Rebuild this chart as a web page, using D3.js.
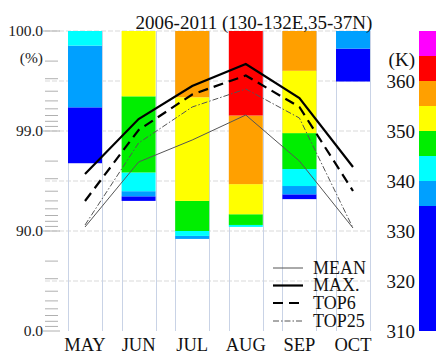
<!DOCTYPE html>
<html>
<head>
<meta charset="utf-8">
<script src="https://cdn.jsdelivr.net/npm/d3@7"></script>
<style>
  html, body { margin: 0; padding: 0; background: #fff; }
  svg { display: block; font-family: "Liberation Serif", "Times New Roman", serif; }
</style>
</head>
<body>
<svg id="chart" width="441" height="354"></svg>
<script>
// Months on the x axis
const months = ["MAY", "JUN", "JUL", "AUG", "SEP", "OCT"];

// Temperature class edges (K) and their colours (colour bar + bar segments)
const classEdges = [310, 335, 340, 345, 350, 355, 360, 365, 370];
const classColors = ["#0000ff", "#00a0ff", "#00ffff", "#00ee00", "#ffff00", "#ffa000", "#ff0000", "#ff00ff"];

// Cumulative percentile (%) at each class edge 335..365 K, per month
const pctMay = [99.42, 99.86, 99.9, 99.9, 99.9, 99.9, 99.9];
const pctJun = [95.5, 96.0, 97.4, 99.55, 99.9, 99.9, 99.9];
const pctJul = [88.0, 88.8, 90.0, 95.0, 99.54, 99.9, 99.9];
const pctAug = [90.9, 90.9, 91.3, 93.2, 96.6, 99.3, 99.9];
const pctSep = [95.7, 96.45, 97.6, 98.95, 99.75, 99.9, 99.9];
const pctOct = [99.85, 99.9, 99.9, 99.9, 99.9, 99.9, 99.9];
// Lowest coloured percentile of each bar
const pctBase = [97.9, 95.0, 88.0, 90.9, 95.2, 99.68];
// Top of every bar
const pctTop = 99.9;

// Temperature series (K)
const meanT  = [330.8, 343.8, 348.2, 353.2, 344.0, 330.6];
const maxT   = [341.4, 352.4, 359.0, 363.4, 356.6, 342.8];
const top6T  = [336.0, 350.2, 357.3, 361.1, 354.8, 338.0];
const top25T = [331.2, 347.6, 354.8, 358.4, 352.6, 330.6];

// Left axis: log of (100 - percent), labels for the decade ticks
const pctTickValues = [0.1, 1, 10, 100];
const pctTickLabels = ["100.0", "99.0", "90.0", "0.0"];
const kTicks = [310, 320, 330, 340, 350, 360];

const title = "2006-2011 (130-132E,35-37N)";

const svg = d3.select("#chart");
const plotTop = 31, plotBottom = 331;

const x = d3.scaleBand().domain(months).range([58.2, 379.8]).paddingInner(0.366).paddingOuter(0.183);
const yLog = d3.scaleLog().domain([100, 0.1]).range([plotBottom, plotTop]);
const yPct = p => yLog(100 - p);
const yK = d3.scaleLinear().domain([310, 370]).range([plotBottom, plotTop]);

const gridLeft = 45, gridRight = x("OCT") + x.bandwidth();

// Horizontal grid lines every 10 K
svg.append("g").selectAll("line")
  .data(d3.range(320, 371, 10))
  .join("line")
  .attr("x1", gridLeft).attr("x2", gridRight)
  .attr("y1", d => yK(d)).attr("y2", d => yK(d))
  .attr("stroke", "#d9d9d9").attr("stroke-width", 1)
  .attr("stroke-dasharray", "5,2");

// Vertical lines at bar edges
const edges = months.flatMap(m => [x(m), x(m) + x.bandwidth()]);
svg.append("g").selectAll("line")
  .data(edges)
  .join("line")
  .attr("x1", d => Math.round(d) + 0.5).attr("x2", d => Math.round(d) + 0.5)
  .attr("y1", plotTop).attr("y2", plotBottom)
  .attr("stroke", "#c9d3e6").attr("stroke-width", 1);

// Stacked percentile bars
const pctByMonth = [pctMay, pctJun, pctJul, pctAug, pctSep, pctOct];
const segments = [];
months.forEach((m, i) => {
  const bounds = [pctBase[i], ...pctByMonth[i], pctTop];
  for (let c = 0; c < classColors.length; c++) {
    const lo = Math.max(bounds[c], pctBase[i]);
    const hi = Math.min(bounds[c + 1], pctTop);
    if (hi > lo) segments.push({ m, c, lo, hi });
  }
});
svg.append("g").selectAll("rect")
  .data(segments)
  .join("rect")
  .attr("x", d => x(d.m))
  .attr("width", x.bandwidth())
  .attr("y", d => yPct(d.hi))
  .attr("height", d => yPct(d.lo) - yPct(d.hi))
  .attr("fill", d => classColors[d.c]);

// Left axis: log ticks with decade labels
const leftTicks = yLog.ticks();
svg.append("g").selectAll("line")
  .data(leftTicks)
  .join("line")
  .attr("x1", d => pctTickValues.includes(d) ? 43 : 45)
  .attr("x2", d => pctTickValues.includes(d) ? 60 : 58)
  .attr("y1", d => yLog(d)).attr("y2", d => yLog(d))
  .attr("stroke", "#b0b0b0").attr("stroke-width", 1);

svg.append("g").selectAll("text")
  .data(pctTickValues)
  .join("text")
  .attr("x", 43).attr("y", d => yLog(d))
  .attr("dy", "0.35em")
  .attr("text-anchor", "end")
  .attr("font-size", 15.5)
  .attr("fill", "#222")
  .text((d, i) => pctTickLabels[i]);

svg.append("text").attr("x", 43).attr("y", 58).attr("dy", "0.35em")
  .attr("text-anchor", "end").attr("font-size", 15.5).attr("fill", "#222").text("(%)");

// Temperature lines
const line = d3.line().x((d, i) => x(months[i]) + x.bandwidth() / 2).y(d => yK(d));
const seriesStyles = [
  { name: "MEAN",  data: meanT,  stroke: "#555", width: 1,   dash: null },
  { name: "MAX.",  data: maxT,   stroke: "#000", width: 2.2, dash: null },
  { name: "TOP6",  data: top6T,  stroke: "#000", width: 2.2, dash: "10,6" },
  { name: "TOP25", data: top25T, stroke: "#555", width: 1,   dash: "6,2,1.5,2" }
];
svg.append("g").selectAll("path")
  .data(seriesStyles)
  .join("path")
  .attr("d", d => line(d.data))
  .attr("fill", "none")
  .attr("stroke", d => d.stroke)
  .attr("stroke-width", d => d.width)
  .attr("stroke-dasharray", d => d.dash);

// Legend
const legendY = [268, 285.5, 303, 321];
const lg = svg.append("g").selectAll("g").data(seriesStyles).join("g");
lg.append("line")
  .attr("x1", 273).attr("x2", 303)
  .attr("y1", (d, i) => legendY[i]).attr("y2", (d, i) => legendY[i])
  .attr("stroke", d => d.stroke)
  .attr("stroke-width", d => d.width)
  .attr("stroke-dasharray", d => d.dash);
lg.append("text")
  .attr("x", 313).attr("y", (d, i) => legendY[i]).attr("dy", "0.33em")
  .attr("font-size", 18).attr("fill", "#111")
  .text(d => d.name);

// Month labels
svg.append("g").selectAll("text")
  .data(months)
  .join("text")
  .attr("x", d => x(d) + x.bandwidth() / 2)
  .attr("y", 351)
  .attr("text-anchor", "middle")
  .attr("font-size", 18.5).attr("fill", "#111")
  .text(d => d);

// Title
svg.append("text").attr("x", 254).attr("y", 29)
  .attr("text-anchor", "middle").attr("font-size", 19).attr("fill", "#111")
  .text(title);

// Colour bar
const cbX = 419, cbW = 17;
svg.append("g").selectAll("rect")
  .data(classColors)
  .join("rect")
  .attr("x", cbX).attr("width", cbW)
  .attr("y", (d, i) => yK(classEdges[i + 1]))
  .attr("height", (d, i) => yK(classEdges[i]) - yK(classEdges[i + 1]))
  .attr("fill", d => d);

// Right axis labels
svg.append("g").selectAll("text")
  .data(kTicks)
  .join("text")
  .attr("x", 415).attr("y", d => yK(d)).attr("dy", "0.35em")
  .attr("text-anchor", "end").attr("font-size", 19).attr("fill", "#111")
  .text(d => d);
svg.append("text").attr("x", 415).attr("y", 59).attr("dy", "0.35em")
  .attr("text-anchor", "end").attr("font-size", 19).attr("fill", "#111").text("(K)");
</script>
</body>
</html>
